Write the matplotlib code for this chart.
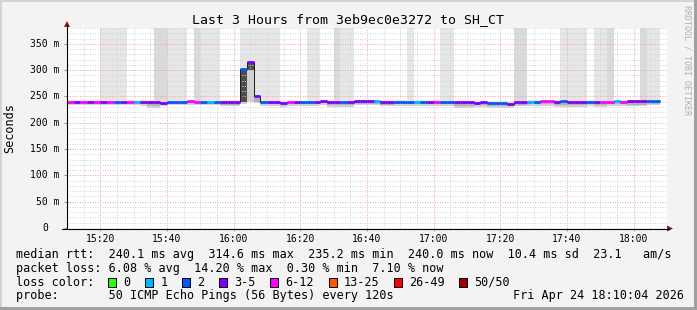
import matplotlib
matplotlib.use("Agg")
import matplotlib.pyplot as plt
from matplotlib.patches import Rectangle, Polygon
from matplotlib.lines import Line2D
import numpy as np

# ---------------------------------------------------------------------------
# data (one value per 120 s step, from 15:10)
# ---------------------------------------------------------------------------
START = "15:10"
END = "18:10"
STEP_MIN = 2

# median rtt in ms
median = [
    239.5, 239.5, 239.5, 239.5, 239.5, 239.5, 239.5, 239.5, 239.5, 239.5,
    239.5, 239.5, 239.5, 239.5, 237.5, 239.5, 239.5, 239.5, 241.5, 239.5,
    239.5, 239.5, 239.5, 239.5, 239.5, 239.5, 302.0, 315.0, 250.0, 239.0,
    239.0, 239.0, 237.5, 239.0, 239.0, 239.0, 239.0, 239.0, 241.0, 239.0,
    239.0, 239.0, 239.0, 241.0, 241.0, 241.0, 241.0, 239.5, 239.5, 239.5,
    239.5, 239.5, 239.5, 239.5, 239.5, 239.5, 239.5, 239.5, 239.5, 239.5,
    239.5, 237.5, 239.5, 237.0, 237.0, 237.0, 236.5, 239.5, 239.5, 239.5,
    239.0, 241.5, 241.5, 240.0, 241.5, 239.5, 239.5, 239.5, 239.5, 239.5,
    239.5, 239.5, 241.5, 240.0, 241.0, 241.0, 240.5, 241.5, 241.5,
]

# lost pings (of 50) per step
loss = [
    7, 4, 7, 4, 7, 4, 7, 2, 4, 7,
    1, 3, 4, 4, 4, 2, 2, 2, 6, 6,
    2, 1, 2, 3, 4, 4, 2, 4, 3, 2,
    4, 4, 4, 6, 3, 2, 2, 4, 4, 4,
    3, 2, 4, 4, 3, 4, 1, 4, 4, 2,
    2, 2, 1, 2, 4, 6, 2, 2, 4, 4,
    3, 4, 4, 2, 2, 2, 4, 4, 3, 1,
    2, 6, 7, 4, 2, 4, 4, 3, 2, 4,
    6, 6, 1, 6, 4, 4, 3, 2, 2,
]

# smoke: upper extent (380 = off the top of the graph)
smoke_hi_outer = [
    243, 243, 243, 243, 243, 380, 380, 380, 380, 243,
    243, 243, 243, 380, 380, 380, 380, 380, 244, 380,
    380, 380, 380, 243, 243, 243, 380, 380, 380, 380,
    380, 380, 242, 242, 242, 242, 380, 380, 243, 243,
    380, 380, 380, 244, 244, 244, 244, 243, 243, 243,
    243, 380, 243, 243, 243, 243, 380, 380, 242, 242,
    242, 242, 242, 242, 242, 242, 242, 380, 380, 243,
    243, 244, 244, 243, 380, 380, 380, 380, 243, 380,
    380, 380, 244, 244, 244, 244, 380, 380, 380,
]
smoke_hi_inner = [
    0, 0, 0, 0, 0, 0, 0, 0, 0, 0,
    0, 0, 0, 380, 380, 0, 0, 0, 0, 380,
    0, 0, 0, 0, 0, 0, 0, 0, 0, 0,
    0, 0, 0, 0, 0, 0, 0, 0, 0, 0,
    380, 0, 0, 0, 0, 0, 0, 0, 0, 0,
    0, 0, 0, 0, 0, 0, 0, 0, 0, 0,
    0, 0, 0, 0, 0, 0, 0, 380, 380, 0,
    0, 0, 0, 0, 0, 0, 0, 0, 0, 0,
    0, 380, 0, 0, 0, 0, 380, 0, 0,
]
# smoke: lower extents
smoke_lo_outer = [
    234, 234, 234, 234, 234, 234, 234, 234, 234, 234,
    234, 231, 228, 228, 231, 233, 233, 233, 234, 234,
    233, 233, 233, 231, 231, 231, 236, 240, 237, 232,
    232, 232, 230, 232, 232, 232, 232, 232, 234, 230,
    230, 230, 230, 233, 233, 233, 233, 231, 231, 232,
    232, 232, 232, 232, 232, 232, 232, 232, 228, 228,
    228, 229, 229, 228, 228, 228, 228, 231, 231, 232,
    232, 232, 232, 230, 230, 230, 230, 230, 232, 229,
    229, 232, 232, 232, 231, 231, 231, 233, 233,
]
smoke_lo_inner = [
    237, 237, 237, 237, 237, 237, 237, 237, 237, 237,
    237, 235, 232, 232, 234, 236, 236, 236, 237, 237,
    236, 236, 236, 234, 234, 234, 239, 300, 240, 235,
    235, 235, 233, 235, 235, 235, 235, 235, 237, 234,
    234, 234, 234, 236, 236, 236, 236, 234, 234, 235,
    235, 235, 235, 235, 235, 235, 235, 235, 232, 232,
    232, 233, 233, 232, 232, 232, 231, 234, 234, 235,
    235, 235, 235, 234, 234, 234, 234, 234, 235, 233,
    233, 235, 235, 235, 234, 234, 234, 236, 236,
]
dense_steps = [26, 27]

x_tick_labels = ["15:20", "15:40", "16:00", "16:20", "16:40",
                 "17:00", "17:20", "17:40", "18:00"]
y_ticks = [0, 50, 100, 150, 200, 250, 300, 350]
y_tick_labels = ["0", "50 m", "100 m", "150 m", "200 m", "250 m", "300 m", "350 m"]

loss_labels = ["0", "1", "2", "3-5", "6-12", "13-25", "26-49", "50/50"]
loss_limits = [0, 1, 2, 5, 12, 25, 49, 50]
loss_colors = ["#26ff00", "#00b8ff", "#0059ff", "#7e00ff",
               "#ff00ff", "#ff5500", "#ff0000", "#a10000"]

title = "Last 3 Hours from 3eb9ec0e3272 to SH_CT"
line_rtt = ("median rtt:  240.1 ms avg  314.6 ms max  235.2 ms min  "
            "240.0 ms now  10.4 ms sd  23.1   am/s")
line_loss = "packet loss: 6.08 % avg  14.20 % max  0.30 % min  7.10 % now"
line_probe = "probe:       50 ICMP Echo Pings (56 Bytes) every 120s"
stamp = "Fri Apr 24 18:10:04 2026"


def minutes(hhmm):
    h, m = hhmm.split(":")
    return int(h) * 60 + int(m)


W, H = 697, 310


def fx(x):
    return x / W


def fy(y):
    return 1 - y / H


plt.rcParams['font.family'] = 'DejaVu Sans Mono'

fig = plt.figure(figsize=(W / 100, H / 100), dpi=100)
fig.patch.set_facecolor("#f3f3f3")
ax = fig.add_axes([fx(67), fy(228), 600 / W, 200 / H])
ax.set_facecolor("white")

n = len(median)
t0 = minutes(START)
left = t0 + STEP_MIN * np.arange(n)
right = left + STEP_MIN
med = np.array(median, dtype=float)
hi_o = np.array(smoke_hi_outer, dtype=float)
hi_i = np.array(smoke_hi_inner, dtype=float)
lo_o = np.array(smoke_lo_outer, dtype=float)
lo_i = np.array(smoke_lo_inner, dtype=float)

bar_kw = dict(width=STEP_MIN, align='edge', linewidth=0, antialiased=False)
# smoke above the median
ax.bar(left, hi_o - med, bottom=med, color="#e6e6e6", **bar_kw)
m = hi_i > med
ax.bar(left[m], hi_i[m] - med[m], bottom=med[m], color="#dadada", **bar_kw)
# smoke below the median
ax.bar(left, lo_i - lo_o, bottom=lo_o, color="#d0d0d0", **bar_kw)
inner_col = ["#4d4d4d" if i in dense_steps else "#b0b0b0" for i in range(n)]
ax.bar(left, med - lo_i, bottom=lo_i, color=inner_col, **bar_kw)

# median line + loss colored segments
edges = np.append(left, right[-1])
ax.stairs(med, edges, baseline=None, color="#202020", linewidth=0.72, zorder=2)


def loss_color(v):
    for lim, c in zip(loss_limits, loss_colors):
        if v <= lim:
            return c
    return loss_colors[-1]


ax.hlines(med, left, right, colors=[loss_color(v) for v in loss],
          linewidth=2.0, zorder=3)

# axes, grid
ax.set_xlim(t0, minutes(END))
ax.set_ylim(0, 380)
xt = [minutes(s) for s in x_tick_labels]
ax.set_xticks(xt)
ax.set_xticklabels(x_tick_labels, fontsize=7)
ax.set_xticks(np.arange(t0, minutes(END) + 1, 5), minor=True)
ax.set_yticks(y_ticks)
ax.set_yticklabels([])
ax.set_yticks(np.arange(0, 381, 10), minor=True)
ax.tick_params(which='major', length=2, width=0.7, color="#909090", pad=2)
ax.tick_params(which='minor', length=0)
ax.set_axisbelow('line')
ax.grid(which='major', color="#f4a4a4", linestyle=(0, (1, 1.5)), linewidth=0.72)
ax.grid(which='minor', color="#d4d4d4", linestyle=(0, (1, 1.5)), linewidth=0.72)
for s in ax.spines.values():
    s.set_visible(False)

cw_axis = 7 * 100 / 72 * 0.602
ylab_tr = matplotlib.transforms.blended_transform_factory(fig.transFigure, ax.transData)
for v, lab in zip(y_ticks, y_tick_labels):
    xr = 59.5 if lab.endswith("m") else 59.5 - 2 * cw_axis
    ax.text(fx(xr), v, lab, transform=ylab_tr, fontsize=7, ha='right', va='center')

# axis lines and arrows
fig.add_artist(Line2D([fx(67), fx(67)], [fy(228.5), fy(25)], color="black", lw=0.8))
fig.add_artist(Line2D([fx(62), fx(669)], [fy(228.5), fy(228.5)], color="black", lw=0.8))
fig.add_artist(Polygon([(fx(67), fy(21)), (fx(64), fy(27)), (fx(70), fy(27))],
                       closed=True, color="#8b1a1a", lw=0))
fig.add_artist(Polygon([(fx(673), fy(228.5)), (fx(667), fy(225.5)), (fx(667), fy(231.5))],
                       closed=True, color="#8b1a1a", lw=0))

# texts
fig.text(0.5, fy(19.5), title, fontsize=9.5, ha='center', va='center')
fig.text(fx(10), fy(128), "Seconds", rotation=90, fontsize=8.5,
         ha='center', va='center')
fig.text(fx(687), fy(60), "RRDTOOL / TOBI OETIKER", rotation=270, fontsize=6,
         color="#b0b0b0", ha='center', va='center')

cw = 8.5 * 100 / 72 * 0.602
fig.text(fx(16), fy(254.5), line_rtt, fontsize=8.5, ha='left', va='center')
fig.text(fx(16), fy(268.3), line_loss, fontsize=8.5, ha='left', va='center')
fig.text(fx(16), fy(282), "loss color:", fontsize=8.5, ha='left', va='center')
idx = 13.0
for lab, col in zip(loss_labels, loss_colors):
    bx = 16 + idx * cw
    fig.add_artist(Rectangle((fx(bx), fy(286.5)), 8 / W, 9 / H, facecolor=col,
                             edgecolor="black", lw=0.7))
    fig.text(fx(16 + (idx + 2.1) * cw), fy(282), lab, fontsize=8.5,
             ha='left', va='center')
    idx += 2.1 + len(lab) + 2.1
fig.text(fx(16), fy(296), line_probe, fontsize=8.5, ha='left', va='center')
fig.text(fx(513), fy(296), stamp, fontsize=8.5, ha='left', va='center')

# 3d border of the rrdtool canvas
fig.add_artist(Rectangle((0, fy(310)), 2 / W, 1, color="#d4d4d4", lw=0))
fig.add_artist(Rectangle((0, fy(2)), 1, 2 / H, color="#d4d4d4", lw=0))
fig.add_artist(Rectangle((fx(694), 0), 3 / W, 1, color="#a0a0a0", lw=0))
fig.add_artist(Rectangle((0, 0), 1, 3 / H, color="#a0a0a0", lw=0))

fig.savefig("out.png", dpi=100, facecolor=fig.get_facecolor())
